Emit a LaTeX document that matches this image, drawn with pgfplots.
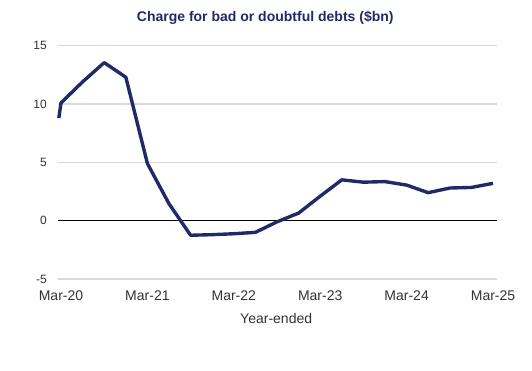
\documentclass[border=0pt]{standalone}
\usepackage{fontspec}
\setmainfont{Liberation Sans}
\usepackage{pgfplots}
\pgfplotsset{compat=1.18}
\definecolor{navy}{RGB}{32,42,102}
\definecolor{gridgrey}{RGB}{217,217,217}
\definecolor{ticktext}{RGB}{51,51,51}
\begin{document}
\begin{tikzpicture}
\useasboundingbox (0,0) rectangle (532bp,371bp);
\begin{axis}[
  at={(58.3bp,92bp)}, anchor=south west,
  scale only axis, width=438.4bp, height=233.3bp,
  xmin=-0.125, xmax=20.17, ymin=-5, ymax=15,
  axis line style={draw=none},
  xtick={0,4,8,12,16,20},
  xticklabels={Mar-20,Mar-21,Mar-22,Mar-23,Mar-24,Mar-25},
  ytick={-5,5,10,15},
  extra y ticks={0},
  extra y tick style={grid style={black, line width=1.2pt}},
  ymajorgrids, grid style={gridgrey, line width=1.4pt},
  major tick length=0pt,
  tick label style={text=ticktext},
  /pgf/number format/assume math mode=true,
  yticklabel style={font=\fontsize{12bp}{14bp}\selectfont, anchor=east, xshift=-8bp},
  xticklabel style={font=\fontsize{14bp}{16bp}\selectfont, anchor=center, yshift=-17bp},
  xlabel={Year-ended},
  xlabel style={font=\fontsize{14bp}{16bp}\selectfont, text=ticktext, at={(0.497,0)}, anchor=center, yshift=-39bp},
  title={\textbf{Charge for bad or doubtful debts (\$bn)}},
  title style={font=\fontsize{14bp}{16bp}\selectfont, text=navy, at={(0.472,1)}, anchor=center, yshift=22bp},
  clip=false,
]
\addplot[navy, line width=3.4pt, line join=round, line cap=butt] coordinates {
(-0.1,8.8) (0,10.1) (1,11.9) (2,13.55) (3,12.3) (4,4.9) (5,1.45) (6,-1.25) (7,-1.2) (8,-1.12) (9,-1.0) (10,-0.1) (11,0.65) (12,2.1) (13,3.5) (14,3.3) (15,3.35) (16,3.05) (17,2.4) (18,2.8) (19,2.85) (20,3.2)
};
\end{axis}
\end{tikzpicture}
\end{document}
